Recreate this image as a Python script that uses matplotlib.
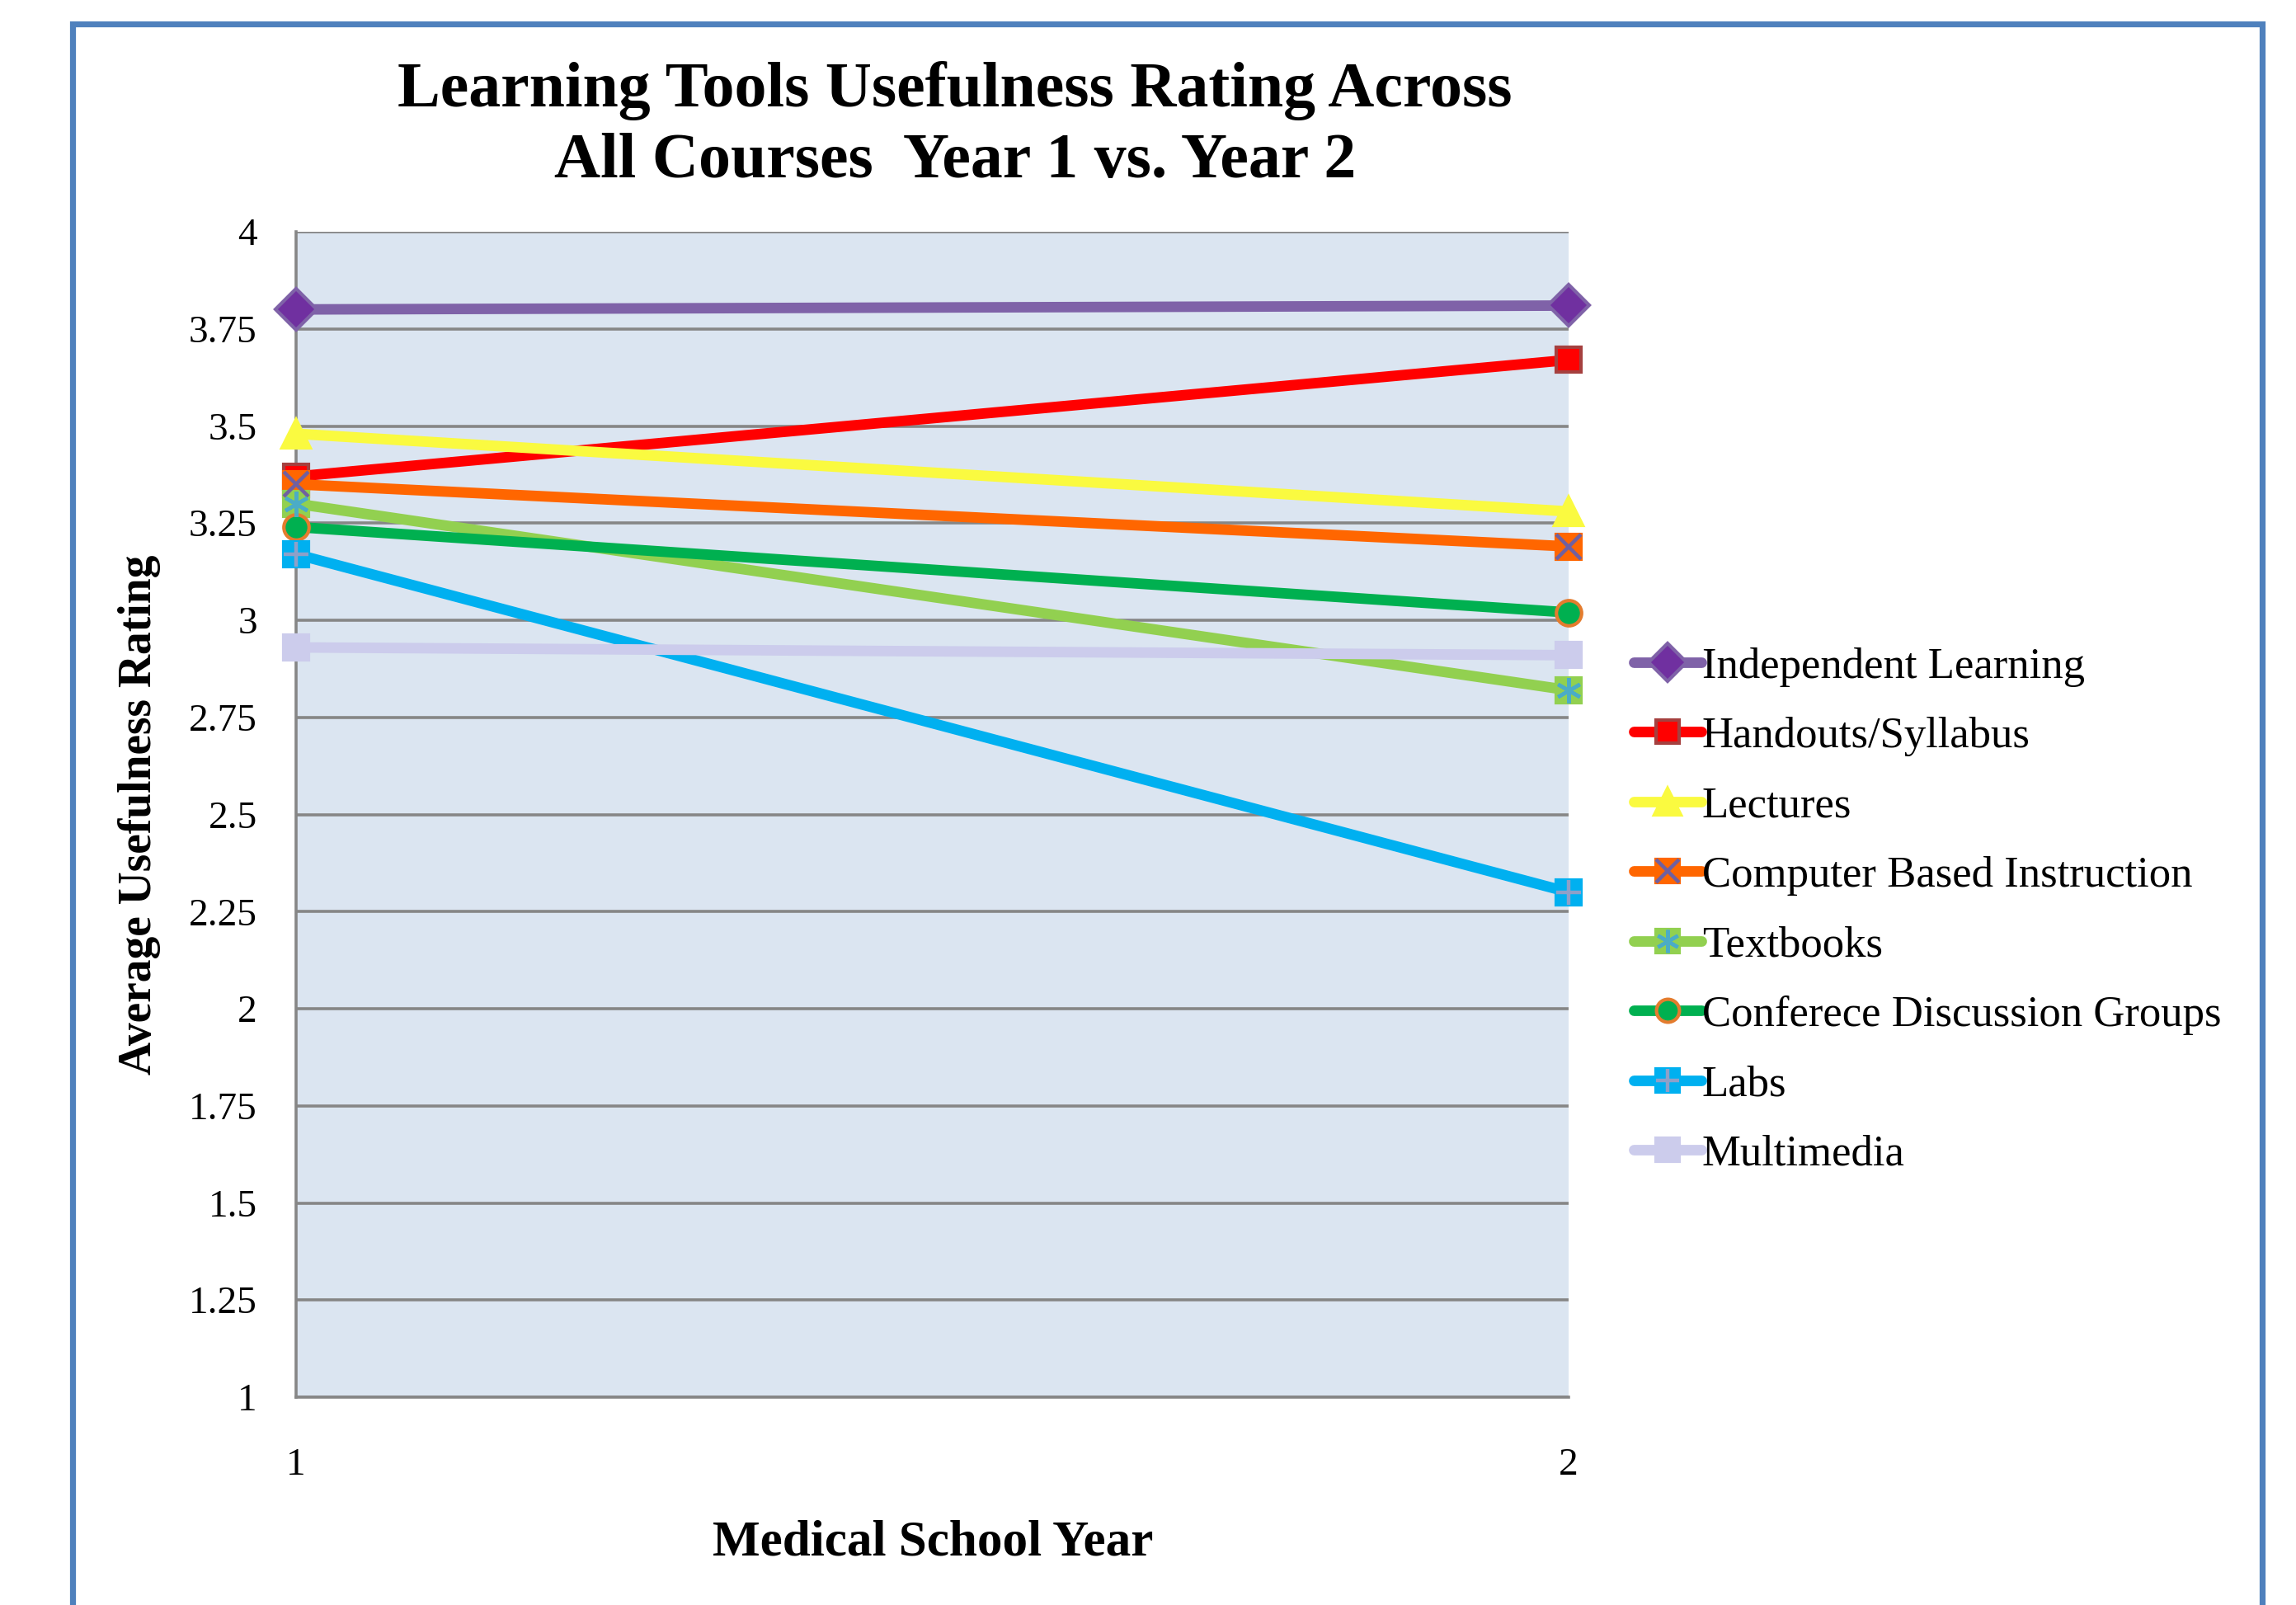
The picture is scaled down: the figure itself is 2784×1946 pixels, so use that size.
import matplotlib
matplotlib.use("Agg")
import matplotlib.pyplot as plt
from matplotlib.lines import Line2D
from matplotlib.patches import Rectangle
from matplotlib.legend_handler import HandlerTuple

plt.rcParams['font.family'] = ['Liberation Serif', 'DejaVu Serif']

years = [1, 2]
series_names = ["Independent Learning", "Handouts/Syllabus", "Lectures",
                "Computer Based Instruction", "Textbooks",
                "Conferece Discussion Groups", "Labs", "Multimedia"]
independent = [3.80, 3.81]
handouts = [3.37, 3.67]
lectures = [3.48, 3.28]
computer = [3.35, 3.19]
textbooks = [3.30, 2.82]
conference = [3.24, 3.02]
labs = [3.17, 2.30]
multimedia = [2.93, 2.91]
ytick_vals = [1, 1.25, 1.5, 1.75, 2, 2.25, 2.5, 2.75, 3, 3.25, 3.5, 3.75, 4]
ytick_labels = ["1", "1.25", "1.5", "1.75", "2", "2.25", "2.5", "2.75", "3",
                "3.25", "3.5", "3.75", "4"]
xtick_labels = ["1", "2"]

values = [independent, handouts, lectures, computer, textbooks, conference, labs, multimedia]

# style: line color, marker, face, edge, overlay marker, overlay color
styles = [
    ("#7F62A8", "D", "#7030A0", "#7F62A8", None, None),
    ("#FF0000", "s", "#FF0000", "#A5403F", None, None),
    ("#FAFA40", "^", "#FAFA40", "#FAFA40", None, None),
    ("#FF6600", "s", "#FF6600", "#FF6600", "x", "#7060A0"),
    ("#92D050", "s", "#92D050", "#92D050", (6, 2, 0), "#4BACC6"),
    ("#00B050", "o", "#00B050", "#E47C2E", None, None),
    ("#00B0F0", "s", "#00B0F0", "#00B0F0", "+", "#8EA0C8"),
    ("#CCCCEC", "s", "#CCCCEC", "#CCCCEC", None, None),
]

W, H, DPI = 2784, 1946, 200
fig = plt.figure(figsize=(W / DPI, H / DPI), dpi=DPI)

# outer blue frame
fig.patches.append(Rectangle((88 / W, -0.05), (2743 - 88) / W, 1 - 29 / H + 0.05,
                             transform=fig.transFigure, fill=False,
                             edgecolor="#4F81BD", linewidth=2.6, zorder=0))

ax = fig.add_axes([359 / W, 1 - 1694 / H, (1902 - 359) / W, (1694 - 281) / H])
ax.set_facecolor("#DBE5F1")
ax.set_xlim(1, 2)
ax.set_ylim(1, 4)
ax.set_yticks(ytick_vals)
ax.set_yticklabels(ytick_labels)
ax.set_xticks(years)
ax.set_xticklabels(xtick_labels)
ax.tick_params(axis='y', length=0, pad=17, labelsize=17)
ax.tick_params(axis='x', length=0, pad=22, labelsize=17)
ax.yaxis.grid(True, color="#868686", linewidth=1.3)
ax.set_axisbelow(True)
for s in ["top", "right"]:
    ax.spines[s].set_visible(False)
for s in ["left", "bottom"]:
    ax.spines[s].set_color("#868686")
    ax.spines[s].set_linewidth(1.3)

lw = 4.6
ms = 11
handles = []
for name, vals, st in zip(series_names, values, styles):
    lc, mk, fc, ec, ov, oc = st
    msz = ms + 1.5 if mk in ("D", "^") else ms
    ax.plot(years, vals, color=lc, linewidth=lw, marker=mk, markersize=msz,
            markerfacecolor=fc, markeredgecolor=ec, markeredgewidth=1.5,
            clip_on=False, zorder=3)
    h = Line2D([], [], color=lc, linewidth=lw, marker=mk, markersize=msz - 1,
               markerfacecolor=fc, markeredgecolor=ec, markeredgewidth=1.5,
               solid_capstyle='round')
    if ov is not None:
        ax.plot(years, vals, linestyle='none', marker=ov, markersize=ms,
                markeredgecolor=oc, markerfacecolor=oc, markeredgewidth=1.6,
                clip_on=False, zorder=3.5)
        h2 = Line2D([], [], linestyle='none', marker=ov, markersize=ms - 1,
                    markeredgecolor=oc, markerfacecolor=oc, markeredgewidth=1.6)
        handles.append((h, h2))
    else:
        handles.append(h)

leg = fig.legend(handles, series_names, loc='center left',
                 bbox_to_anchor=(1981 / W, 1 - 1104 / H), frameon=False,
                 fontsize=19, handlelength=1.55, handletextpad=0.02,
                 labelspacing=0.69, borderaxespad=0, borderpad=0,
                 handler_map={tuple: HandlerTuple(ndivide=1)})

fig.text(1158 / W, 1 - 110 / H, "Learning Tools Usefulness Rating Across",
         ha='center', va='center', fontsize=28, fontweight='bold')
fig.text(1158 / W, 1 - 197 / H, "All Courses  Year 1 vs. Year 2",
         ha='center', va='center', fontsize=28, fontweight='bold')
fig.text(1131 / W, 1 - 1870 / H, "Medical School Year", ha='center', va='center',
         fontsize=22, fontweight='bold')
fig.text(169 / W, 1 - 988 / H, "Average Usefulness Rating", ha='center', va='center',
         fontsize=20, fontweight='bold', rotation=90)

fig.savefig("out.png", dpi=DPI)
